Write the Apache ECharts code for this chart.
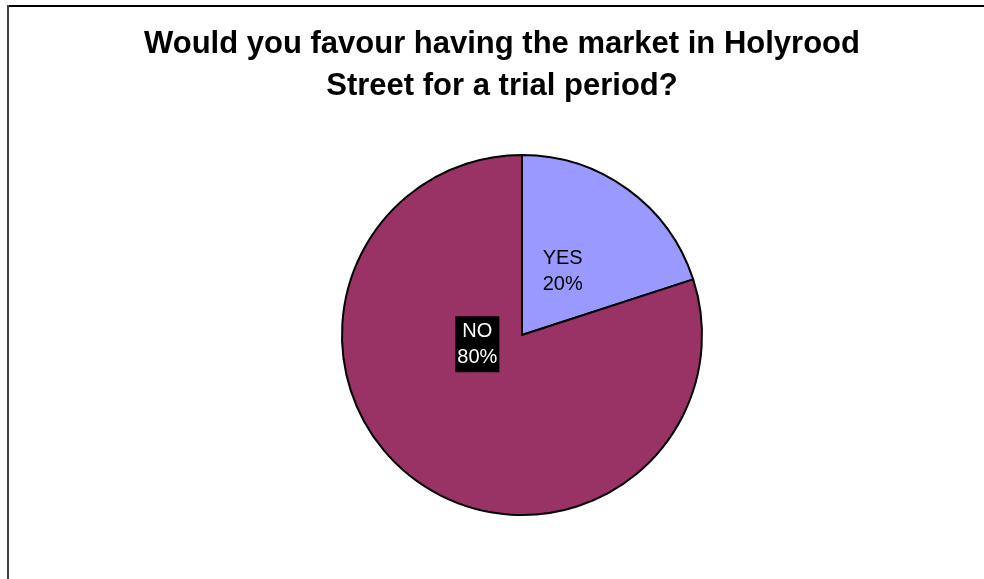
<!DOCTYPE html>
<html>
<head>
<meta charset="utf-8">
<script src="https://cdn.jsdelivr.net/npm/echarts@6/dist/echarts.min.js"></script>
<style>
html,body{margin:0;padding:0;background:#fff;}
#chart{width:984px;height:579px;}
</style>
</head>
<body>
<div id="chart"></div>
<script>
const titleText = "Would you favour having the market in Holyrood\nStreet for a trial period?";
const categories = ["YES", "NO"];
const values = [20, 80];
const colors = ["#9999FF", "#993366"];

const chart = echarts.init(document.getElementById('chart'), null, {renderer: 'canvas'});

const labelStyles = [
  {offset: [-14, 12], color: '#000', backgroundColor: 'transparent', padding: 0},
  {offset: [10, -66], color: '#fff', backgroundColor: '#000', padding: [2, 2, 2, 2]}
];

const option = {
  backgroundColor: '#fff',
  animation: false,
  title: {
    text: titleText,
    left: 497,
    top: 18,
    textAlign: 'center',
    textStyle: {
      fontFamily: '"Liberation Sans", Arial, sans-serif',
      fontWeight: 'bold',
      fontSize: 31,
      lineHeight: 42,
      color: '#000'
    }
  },
  graphic: [
    {type: 'line', shape: {x1: 8, y1: 6, x2: 1000, y2: 6}, style: {stroke: '#000', lineWidth: 2}, silent: true},
    {type: 'line', shape: {x1: 8, y1: 5, x2: 8, y2: 600}, style: {stroke: '#404040', lineWidth: 2}, silent: true}
  ],
  series: [{
    type: 'pie',
    center: [522, 335],
    radius: [0, 180],
    startAngle: 90,
    clockwise: true,
    avoidLabelOverlap: false,
    itemStyle: {borderColor: '#000', borderWidth: 2},
    labelLine: {show: false},
    emphasis: {disabled: true},
    data: categories.map((c, i) => ({
      name: c,
      value: values[i],
      itemStyle: {color: colors[i]},
      label: {
        show: true,
        position: 'inside',
        formatter: '{b}\n{d}%',
        fontFamily: '"Liberation Sans", Arial, sans-serif',
        fontSize: 20,
        lineHeight: 26,
        color: labelStyles[i].color,
        backgroundColor: labelStyles[i].backgroundColor,
        padding: labelStyles[i].padding,
        offset: labelStyles[i].offset
      }
    }))
  }]
};
chart.setOption(option);
</script>
</body>
</html>
